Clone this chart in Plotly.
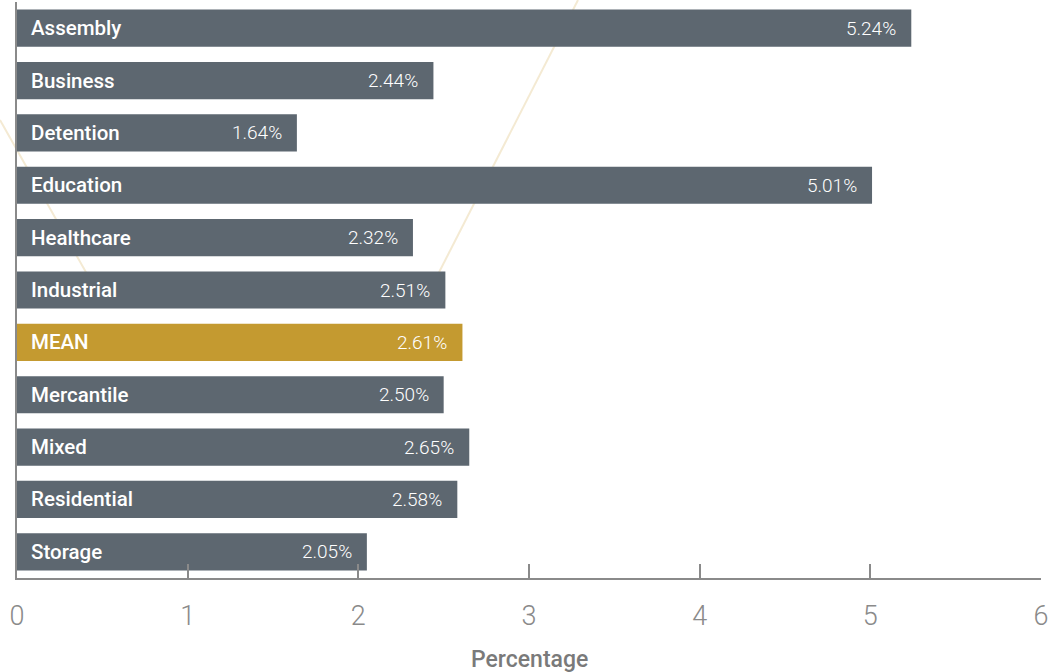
import plotly.graph_objects as go

categories = ["Assembly", "Business", "Detention", "Education", "Healthcare", "Industrial",
              "MEAN", "Mercantile", "Mixed", "Residential", "Storage"]
values = [5.24, 2.44, 1.64, 5.01, 2.32, 2.51, 2.61, 2.50, 2.65, 2.58, 2.05]
value_labels = ["5.24%", "2.44%", "1.64%", "5.01%", "2.32%", "2.51%", "2.61%", "2.50%", "2.65%", "2.58%", "2.05%"]
x_ticks = [0, 1, 2, 3, 4, 5, 6]
x_title = "Percentage"

GRAY = "#5d6770"
GOLD = "#c49a30"
colors = [GOLD if c == "MEAN" else GRAY for c in categories]

W, H = 1049, 672
ML, MR, MT, MB = 17, 8, 2, 94
pw, ph = W - ML - MR, H - MT - MB

fig = go.Figure()
fig.add_trace(go.Bar(
    x=values, y=categories, orientation="h",
    marker=dict(color=colors, line=dict(width=0)),
    hoverinfo="skip", showlegend=False,
))

annotations = []
for c, v, lab in zip(categories, values, value_labels):
    annotations.append(dict(x=0, y=c, xref="x", yref="y", text=c, showarrow=False,
                            xanchor="left", xshift=12,
                            font=dict(family="Roboto", size=20.5, color="white", weight=500)))
    annotations.append(dict(x=v, y=c, xref="x", yref="y", text=lab, showarrow=False,
                            xanchor="right", xshift=-13,
                            font=dict(family="Roboto", size=19, color="white", weight=300)))
annotations.append(dict(x=0.5, y=0, xref="paper", yref="paper", text=x_title, showarrow=False,
                        xanchor="center", yanchor="top", yshift=-66,
                        font=dict(family="Roboto", size=23, color="#7a7a7a", weight=500)))

def px(xp, yp):
    return (xp - ML) / pw, (H - MB - yp) / ph

deco = [((0, 120), (96, 290)), ((578, 0), (430, 290))]
shapes = []
for (a, b) in deco:
    x0, y0 = px(*a)
    x1, y1 = px(*b)
    shapes.append(dict(type="line", xref="paper", yref="paper", x0=x0, y0=y0, x1=x1, y1=y1,
                       line=dict(color="#f4ead3", width=2), layer="below"))

fig.update_layout(
    width=W, height=H,
    margin=dict(l=ML, r=MR, t=MT, b=MB, autoexpand=False),
    plot_bgcolor="white", paper_bgcolor="white",
    bargap=0.29,
    annotations=annotations,
    shapes=shapes,
    xaxis=dict(range=[0, 6], tickvals=x_ticks, ticks="inside", ticklen=14, tickwidth=1.5,
               tickcolor="#8a8a8a", showline=True, linecolor="#8a8a8a", linewidth=2,
               showgrid=False, zeroline=False, ticklabelstandoff=13,
               tickfont=dict(family="Roboto", size=27, color="#8a8a8a", weight=300)),
    yaxis=dict(categoryorder="array", categoryarray=categories, autorange="reversed",
               showticklabels=False, ticks="", showgrid=False, zeroline=False,
               showline=True, linecolor="#8a8a8a", linewidth=2),
)

fig.write_html("out.html", config={"displayModeBar": False},
               post_script="document.body.style.margin='0px';document.body.style.padding='0px';")
